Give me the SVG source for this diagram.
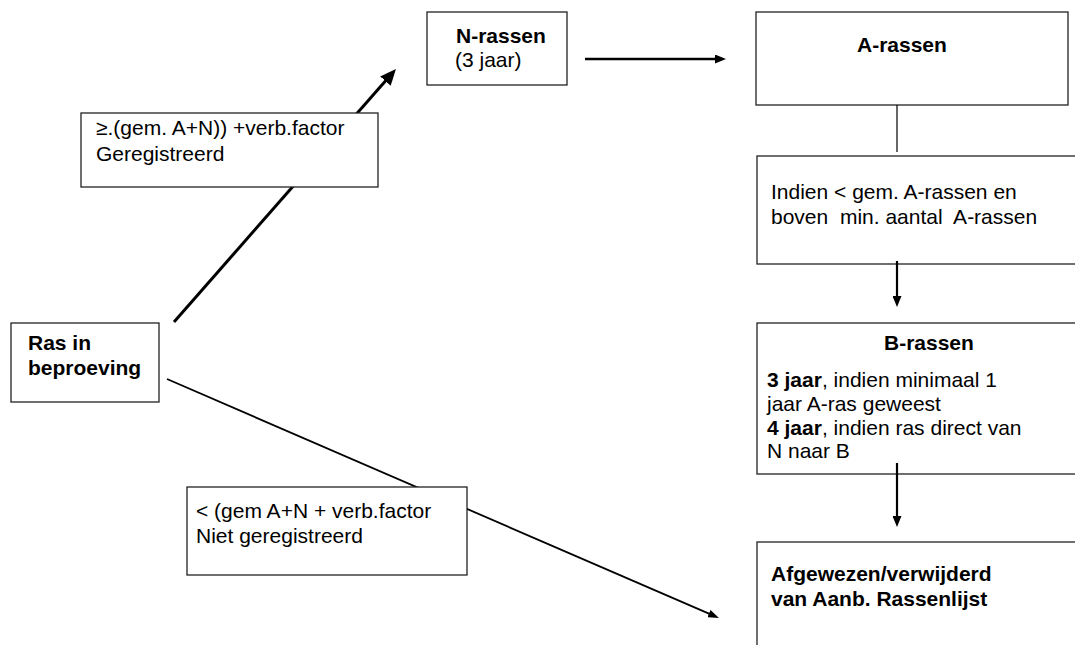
<svg xmlns="http://www.w3.org/2000/svg" width="1075" height="645" viewBox="0 0 1075 645">
<defs>
<style>
.box{fill:#fff;stroke:#222;stroke-width:1.3}
.t{font-family:"Liberation Sans",Arial,sans-serif;font-size:21px;fill:#000}
.b{font-weight:bold}
.ln{stroke:#000;fill:none}
</style>
<marker id="ahBig" markerUnits="userSpaceOnUse" markerWidth="16" markerHeight="14" viewBox="0 0 16 14" refX="10" refY="7" orient="auto"><path d="M0,0 L16,7 L0,14 z" fill="#000"/></marker>
<marker id="ahMed" markerUnits="userSpaceOnUse" markerWidth="11" markerHeight="9" viewBox="0 0 11 9" refX="7" refY="4.5" orient="auto"><path d="M0,0 L11,4.5 L0,9 z" fill="#000"/></marker>
<marker id="ahThin" markerUnits="userSpaceOnUse" markerWidth="11" markerHeight="8" viewBox="0 0 11 8" refX="7" refY="4" orient="auto"><path d="M0,0 L11,4 L0,8 z" fill="#000"/></marker>
</defs>
<rect width="1075" height="645" fill="#fff"/>

<g id="node-ras">
<rect class="box" x="11" y="323" width="148" height="79"/>
<text class="t b" x="28" y="350">Ras in</text>
<text class="t b" x="28" y="375">beproeving</text>
</g>
<g id="node-n">
<rect class="box" x="427" y="12" width="140" height="73"/>
<text class="t b" x="456" y="43">N-rassen</text>
<text class="t" x="455" y="67">(3 jaar)</text>
</g>
<g id="node-a">
<rect class="box" x="756" y="12" width="312" height="93"/>
<text class="t b" x="857" y="52">A-rassen</text>
</g>
<g id="node-indien">
<rect class="box" x="757" y="156" width="330" height="108"/>
<text class="t" x="771" y="199">Indien &lt; gem. A-rassen en</text>
<text class="t" x="771" y="224" xml:space="preserve">boven  min. aantal  A-rassen</text>
</g>
<g id="node-b">
<rect class="box" x="757" y="323" width="330" height="151"/>
<text class="t b" x="884" y="350">B-rassen</text>
<text class="t" x="767" y="387"><tspan class="b">3 jaar</tspan>, indien minimaal 1</text>
<text class="t" x="767" y="411">jaar A-ras geweest</text>
<text class="t" x="767" y="435"><tspan class="b">4 jaar</tspan>, indien ras direct van</text>
<text class="t" x="767" y="458">N naar B</text>
</g>
<g id="node-afgewezen">
<rect class="box" x="757" y="542" width="330" height="120"/>
<text class="t b" x="771" y="581">Afgewezen/verwijderd</text>
<text class="t b" x="771" y="606">van Aanb. Rassenlijst</text>
</g>

<g id="connectors">
<line class="ln" x1="174" y1="322" x2="392" y2="73.5" stroke-width="3" marker-end="url(#ahBig)"/>
<line class="ln" x1="585" y1="59" x2="722" y2="59" stroke-width="2.5" marker-end="url(#ahMed)"/>
<line class="ln" x1="897" y1="105" x2="897" y2="152" stroke-width="1.2"/>
<line class="ln" x1="897" y1="261" x2="897" y2="303" stroke-width="2.2" marker-end="url(#ahMed)"/>
<line class="ln" x1="897" y1="463" x2="897" y2="523" stroke-width="2.2" marker-end="url(#ahMed)"/>
<line class="ln" x1="167" y1="379" x2="715.3" y2="616.4" stroke-width="1.8" marker-end="url(#ahThin)"/>
</g>

<g id="label-geregistreerd">
<rect class="box" x="81" y="113" width="297" height="74"/>
<text class="t" x="96" y="135">≥.(gem. A+N)) +verb.factor</text>
<text class="t" x="96" y="161">Geregistreerd</text>
</g>
<g id="label-niet-geregistreerd">
<rect class="box" x="187" y="487" width="280" height="88"/>
<text class="t" x="196" y="518">&lt; (gem A+N + verb.factor</text>
<text class="t" x="196" y="543">Niet geregistreerd</text>
</g>
</svg>
